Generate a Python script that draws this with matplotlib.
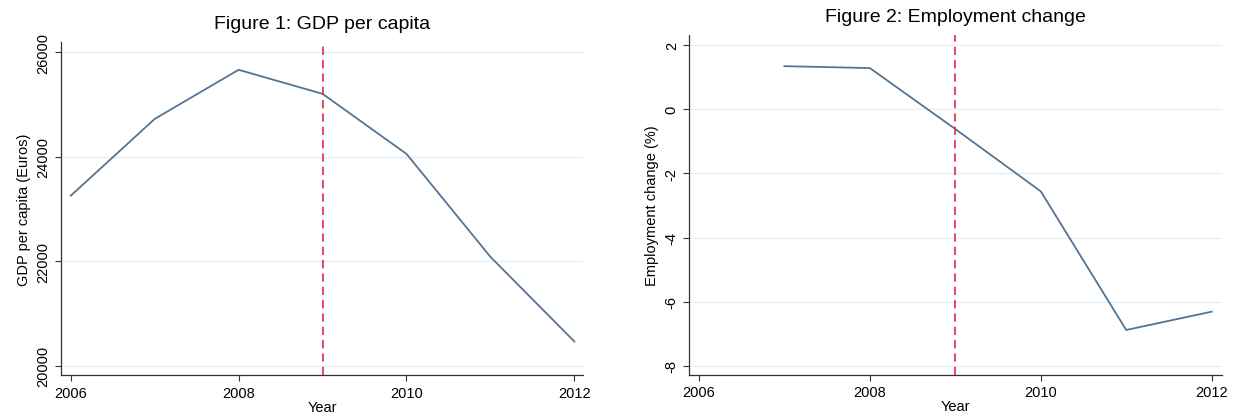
import matplotlib
matplotlib.use("Agg")
import matplotlib.pyplot as plt

plt.rcParams['font.family'] = ['Liberation Sans', 'DejaVu Sans']

years = [2006, 2007, 2008, 2009, 2010, 2011, 2012]
gdp = [23250, 24720, 25660, 25200, 24050, 22080, 20460]

emp_years = [2007, 2008, 2009, 2010, 2011, 2012]
emp_change = [1.34, 1.28, -0.62, -2.56, -6.88, -6.31]

crisis_year = 2009
xticks = [2006, 2008, 2010, 2012]
gdp_ticks = [20000, 22000, 24000, 26000]
emp_ticks = [-8, -6, -4, -2, 0, 2]

line_color = "#557493"
grid_color = "#e6eff1"
vline_color = "#e2284d"

fig = plt.figure(figsize=(12.33, 4.14), dpi=100)
ax1 = fig.add_axes([0.0495, 0.0906, 0.4234, 0.8054])
ax2 = fig.add_axes([0.5590, 0.0920, 0.4318, 0.8210])


def style(ax, yticks):
    ax.set_xticks(xticks)
    ax.set_yticks(yticks)
    ax.set_yticklabels([str(t) for t in yticks], rotation=90, va="center")
    ax.grid(axis="y", color=grid_color, linewidth=1)
    ax.set_axisbelow(True)
    for s in ("top", "right"):
        ax.spines[s].set_visible(False)
    for s in ("left", "bottom"):
        ax.spines[s].set_color("#333333")
        ax.spines[s].set_linewidth(0.9)
    ax.tick_params(labelsize=10.5, length=4, width=0.8, color="#333333")
    ax.set_xlabel("Year", fontsize=10.5, labelpad=0)


ax1.plot(years, gdp, color=line_color, linewidth=1.3)
ax1.axvline(crisis_year, color=vline_color, linestyle=(0, (5, 3)), linewidth=1.2)
ax1.set_xlim(2005.884, 2012.104)
ax1.set_ylim(19809, 26191)
style(ax1, gdp_ticks)
ax1.set_ylabel("GDP per capita (Euros)", fontsize=10.5)
ax1.set_title("Figure 1: GDP per capita", fontsize=14, pad=10)

ax2.plot(emp_years, emp_change, color=line_color, linewidth=1.3)
ax2.axvline(crisis_year, color=vline_color, linestyle=(0, (5, 3)), linewidth=1.2)
ax2.set_xlim(2005.886, 2012.117)
ax2.set_ylim(-8.28, 2.31)
style(ax2, emp_ticks)
ax2.set_ylabel("Employment change (%)", fontsize=10.5)
ax2.set_title("Figure 2: Employment change", fontsize=14, pad=10)

fig.savefig("out.png", dpi=100)
